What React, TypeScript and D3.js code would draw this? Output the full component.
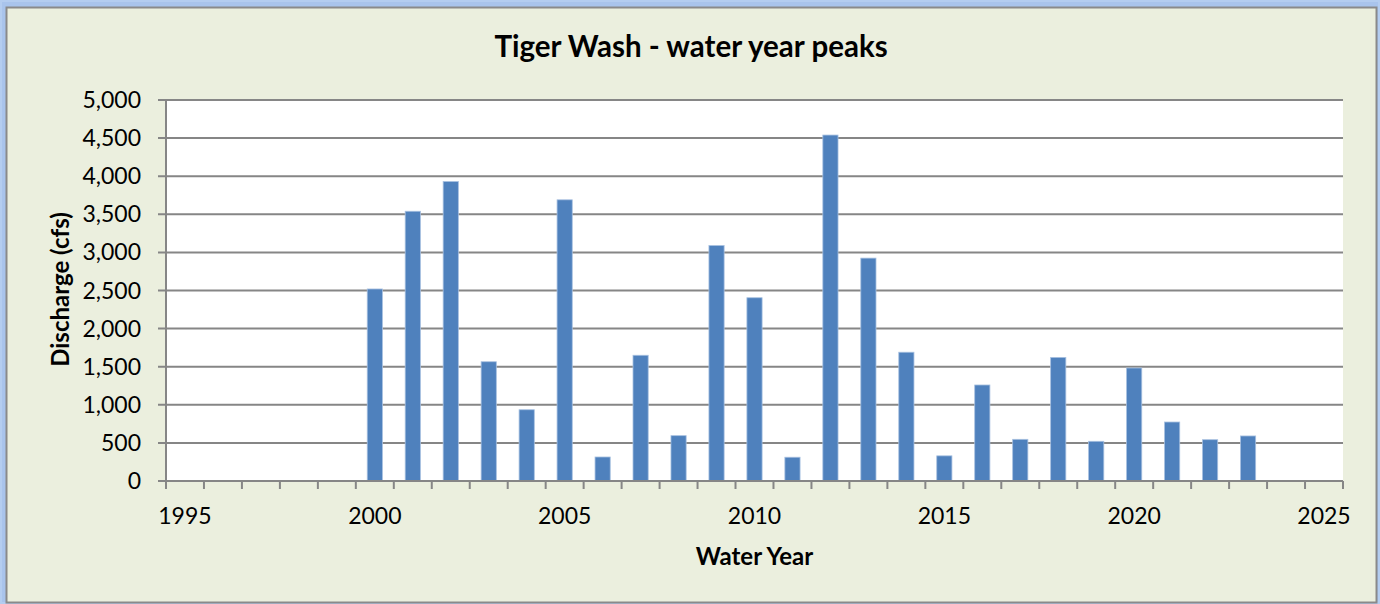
import React, { useEffect, useRef } from 'react';
import * as d3 from 'd3';

// water years on the category axis
const years = d3.range(1995, 2026).map(String);
const labelYears = ['1995', '2000', '2005', '2010', '2015', '2020', '2025'];
// annual peak discharge (cfs)
const peakYears = [
  '2000', '2001', '2002', '2003', '2004', '2005', '2006', '2007', '2008', '2009', '2010', '2011',
  '2012', '2013', '2014', '2015', '2016', '2017', '2018', '2019', '2020', '2021', '2022', '2023',
];
const peaks = [
  2520, 3540, 3930, 1565, 935, 3690, 315, 1650, 595, 3090, 2405, 312,
  4540, 2925, 1690, 330, 1260, 547, 1622, 521, 1483, 774, 542, 591,
];
const yTicks = [0, 500, 1000, 1500, 2000, 2500, 3000, 3500, 4000, 4500, 5000];

const App = () => {
  const svgRef = useRef<SVGSVGElement | null>(null);

  useEffect(() => {
    const W = 1380;
    const H = 604;
    const svg = d3.select(svgRef.current).attr('width', W).attr('height', H);
    svg.selectAll('*').remove();

    const font = 'Lato, "Open Sans", sans-serif';
    const grid = '#868686';

    // outer frame with blue glow
    svg.append('rect').attr('x', 0).attr('y', 0).attr('width', W).attr('height', H).attr('fill', '#b4cdf0');
    svg.append('rect').attr('x', 2).attr('y', 2).attr('width', W - 4).attr('height', H - 4).attr('fill', '#a9c4ec');
    svg.append('rect')
      .attr('x', 6.5).attr('y', 7.5).attr('width', 1370).attr('height', 595)
      .attr('fill', '#ebefde').attr('stroke', '#8a8a8a').attr('stroke-width', 2);

    const left = 166;
    const right = 1343;
    const top = 100;
    const bottom = 481;

    const x = d3.scaleBand<string>().domain(years).range([left, right]).padding(0);
    const y = d3.scaleLinear().domain([0, 5000]).range([bottom, top]);
    const step = x.step();
    const barW = step / 2.5;

    // plot area
    svg.append('rect')
      .attr('x', left).attr('y', top).attr('width', right - left).attr('height', bottom - top)
      .attr('fill', '#ffffff');

    // gridlines
    svg.append('g')
      .selectAll('line')
      .data(yTicks)
      .join('line')
      .attr('x1', left - 8).attr('x2', right)
      .attr('y1', d => y(d)).attr('y2', d => y(d))
      .attr('stroke', grid).attr('stroke-width', 2);

    // y tick labels
    svg.append('g')
      .selectAll('text')
      .data(yTicks)
      .join('text')
      .attr('x', 141).attr('y', d => y(d))
      .attr('dy', '0.35em')
      .attr('text-anchor', 'end')
      .attr('font-family', font).attr('font-size', 23).attr('fill', '#000')
      .text(d => d3.format(',')(d));

    // bars
    svg.append('g')
      .selectAll('rect')
      .data(peakYears.map((yr, i) => ({ yr, v: peaks[i] })))
      .join('rect')
      .attr('x', d => (x(d.yr) as number) + (step - barW) / 2)
      .attr('y', d => y(d.v))
      .attr('width', barW)
      .attr('height', d => bottom - y(d.v))
      .attr('fill', '#4f81bd')
      .attr('stroke', '#a7c0e0').attr('stroke-width', 0.8);

    // axes lines
    svg.append('line').attr('x1', left).attr('x2', left).attr('y1', top).attr('y2', bottom)
      .attr('stroke', grid).attr('stroke-width', 2);
    svg.append('line').attr('x1', left - 8).attr('x2', right).attr('y1', bottom).attr('y2', bottom)
      .attr('stroke', grid).attr('stroke-width', 2);

    // x ticks at category boundaries
    const bounds = years.map(yr => x(yr) as number).concat([right]);
    svg.append('g')
      .selectAll('line')
      .data(bounds)
      .join('line')
      .attr('x1', d => d).attr('x2', d => d)
      .attr('y1', bottom).attr('y2', bottom + 8)
      .attr('stroke', grid).attr('stroke-width', 2);

    svg.append('g')
      .selectAll('text')
      .data(labelYears)
      .join('text')
      .attr('x', d => (x(d) as number) + step / 2)
      .attr('y', 524)
      .attr('text-anchor', 'middle')
      .attr('font-family', font).attr('font-size', 23).attr('fill', '#000')
      .text(d => d);

    // titles
    svg.append('text')
      .attr('x', 691).attr('y', 57)
      .attr('text-anchor', 'middle')
      .attr('font-family', font).attr('font-weight', 'bold').attr('font-size', 29.5)
      .text('Tiger Wash - water year peaks');

    svg.append('text')
      .attr('x', (left + right) / 2).attr('y', 565)
      .attr('text-anchor', 'middle')
      .attr('font-family', font).attr('font-weight', 'bold').attr('font-size', 24)
      .text('Water Year');

    svg.append('text')
      .attr('transform', `translate(69,${(top + bottom) / 2 - 1}) rotate(-90)`)
      .attr('text-anchor', 'middle')
      .attr('font-family', font).attr('font-weight', 'bold').attr('font-size', 24)
      .text('Discharge (cfs)');
  }, []);

  return (
    <svg ref={svgRef} style={{ position: 'absolute', left: 0, top: 0 }}></svg>
  );
};

export default App;
